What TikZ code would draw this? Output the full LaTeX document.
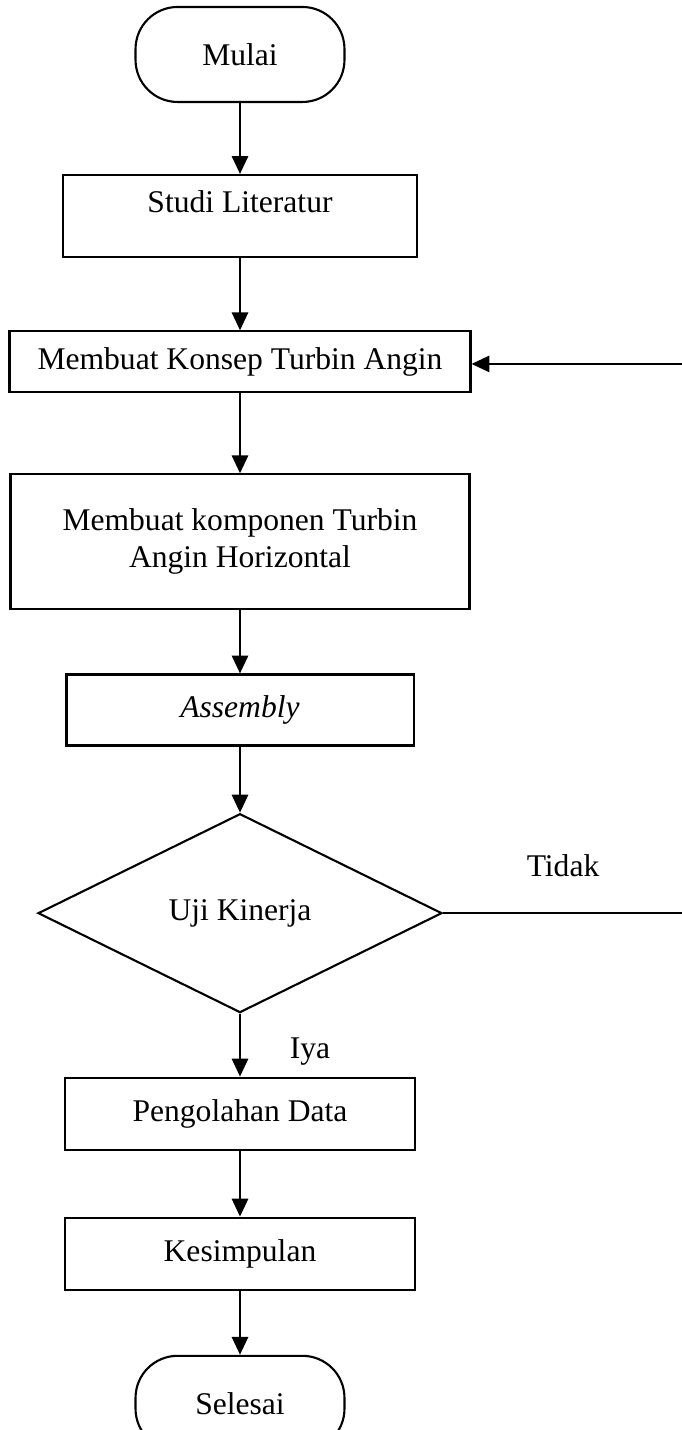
\documentclass[tikz,border=0pt]{standalone}
\usepackage{fontspec}
\setmainfont{Liberation Serif}
\usepackage{tikz}
\usetikzlibrary{positioning}
\usetikzlibrary{shapes.geometric}
\usetikzlibrary{arrows.meta}
\tikzset{
  % Start and end of the flow
  terminal/.style={
    draw=black, line width=0.8pt, rectangle, rounded corners=16pt,
    align=center, font=\fontsize{12}{14}\selectfont, inner sep=0pt,
    minimum width=79.4pt, minimum height=36.1pt},
  % A process step
  proc/.style={
    draw=black, line width=0.8pt, rectangle, align=center,
    font=\fontsize{12}{14}\selectfont, inner sep=0pt, minimum width=#1},
  % The test decision
  decide/.style={
    draw=black, line width=0.8pt, diamond, aspect=2, align=center,
    font=\fontsize{12}{14}\selectfont, inner sep=0pt,
    minimum width=153.5pt, minimum height=75.6pt},
  % Connectors
  flow/.style={-{Triangle[length=6.8pt, width=6.2pt]}, draw=black, line width=0.8pt},
  lbl/.style={font=\fontsize{12}{14}\selectfont, inner sep=1pt},
}
\begin{document}
\begin{tikzpicture}
  \useasboundingbox (0,0) rectangle (258.8pt,-543.4pt);

  \node[terminal] (mulai) at (91.2pt,-20.7pt) {Mulai};
  \node[proc=134.5pt, text height=14.3pt, text depth=16.9pt, below=26.95pt of mulai] (studi) {Studi Literatur};
  \node[proc=175.2pt, minimum height=23.2pt, below=27.4pt of studi] (konsep) {Membuat Konsep Turbin Angin};
  \node[proc=174.4pt, minimum height=51.3pt, below=30.35pt of konsep] (komponen) {Membuat komponen Turbin\\Angin Horizontal};
  \node[proc=131.9pt, minimum height=27pt, below=23.95pt of komponen] (assembly) {\textit{Assembly}};
  \node[decide, below=25.1pt of assembly] (uji) {Uji Kinerja};
  \node[proc=133pt, minimum height=27.4pt, below=23.9pt of uji] (olah) {Pengolahan Data};
  \node[proc=133pt, minimum height=27.4pt, below=25pt of olah] (simpul) {Kesimpulan};
  \node[terminal, below=24.3pt of simpul] (selesai) {Selesai};

  \node[lbl] (tidak) at ([xshift=45.6pt, yshift=18pt]uji.east) {Tidak};
  \node[lbl] (iya) at ([xshift=26.6pt, yshift=-14.4pt]uji.south) {Iya};

  \coordinate (back) at (266pt,-138.3pt);

  \draw[flow] (mulai) -- (studi);
  \draw[flow] (studi) -- (konsep);
  \draw[flow] (konsep) -- (komponen);
  \draw[flow] (komponen) -- (assembly);
  \draw[flow] (assembly) -- (uji);
  \draw[flow] (uji) -- (olah);
  \draw[flow] (olah) -- (simpul);
  \draw[flow] (simpul) -- (selesai);

  \draw[flow] (uji.east) -| (back) -- (back -| konsep.east);

\end{tikzpicture}
\end{document}
